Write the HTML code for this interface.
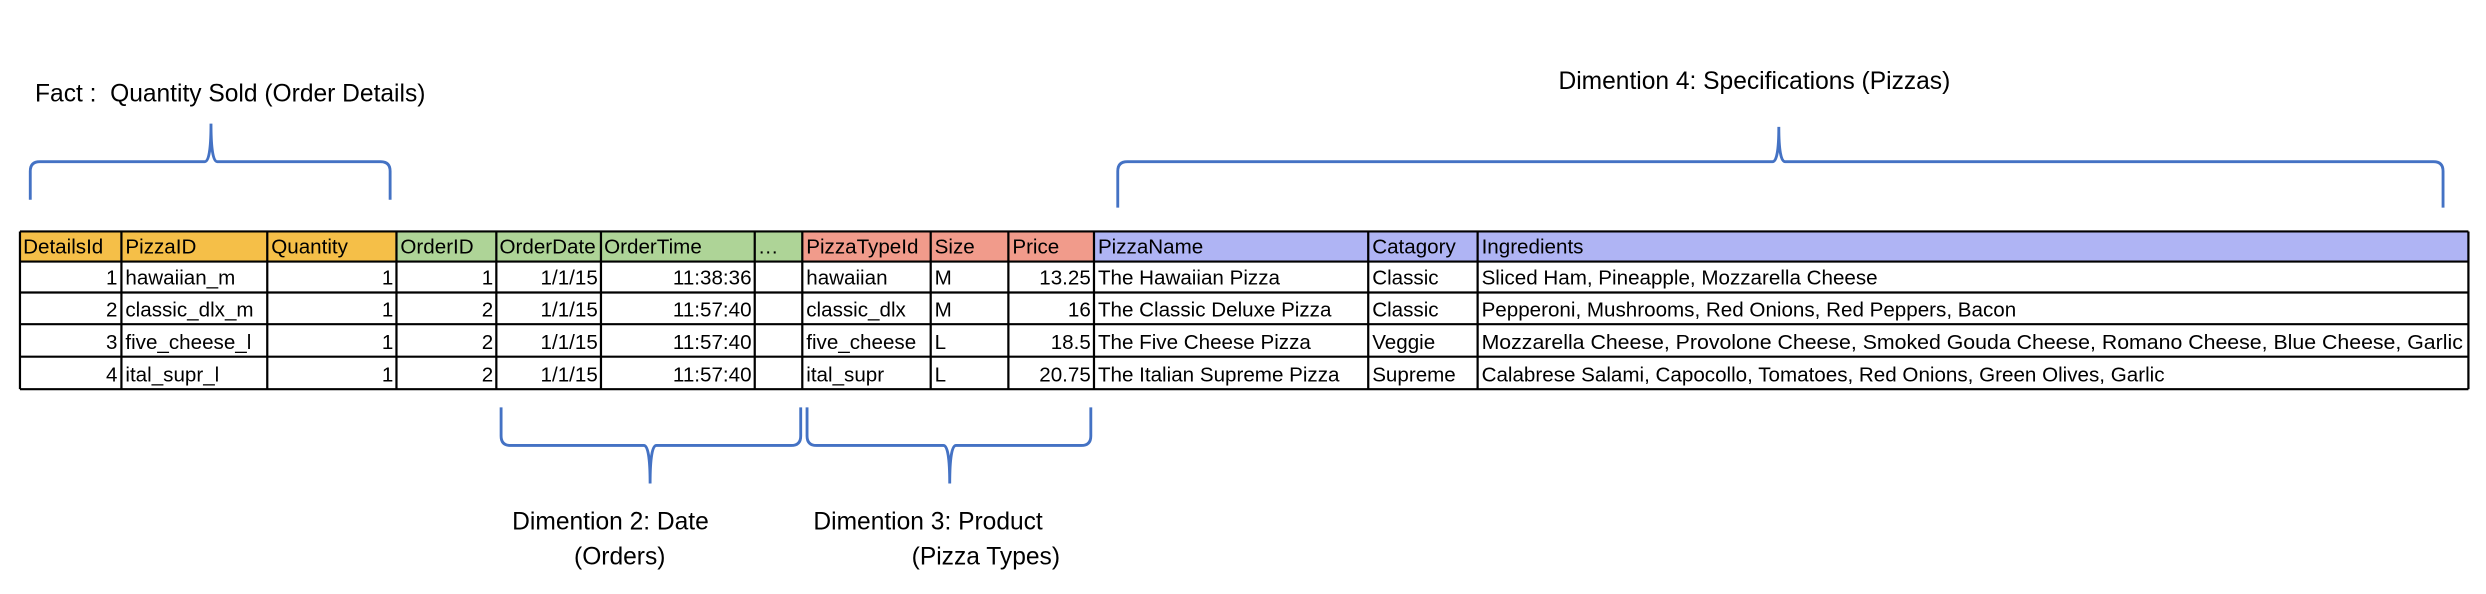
<!DOCTYPE html>
<html><head><meta charset="utf-8"><style>
html,body{margin:0;padding:0;background:#fff;width:2486px;height:594px;overflow:hidden}
svg{display:block}
text{font-family:"Liberation Sans",sans-serif;fill:#000}
.t{font-size:13px}
.l{font-size:15.5px}
</style></head><body>
<svg width="2486" height="594" viewBox="0 0 1568 374.7" xmlns="http://www.w3.org/2000/svg">
<rect width="1568" height="375" fill="#fff"/>
<rect x="12.5" y="146" width="237.5" height="19" fill="#F5BF48"/>
<rect x="250" y="146" width="256" height="19" fill="#AED497"/>
<rect x="506" y="146" width="184" height="19" fill="#F19B8B"/>
<rect x="690" y="146" width="867" height="19" fill="#AFB4F4"/>
<g stroke="#000" stroke-width="1.4" fill="none">
<line x1="12.5" y1="146" x2="1557" y2="146"/>
<line x1="12.5" y1="165" x2="1557" y2="165"/>
<line x1="12.5" y1="184.5" x2="1557" y2="184.5"/>
<line x1="12.5" y1="204.5" x2="1557" y2="204.5"/>
<line x1="12.5" y1="225" x2="1557" y2="225"/>
<line x1="12.5" y1="245.5" x2="1557" y2="245.5"/>
<line x1="12.5" y1="146" x2="12.5" y2="245.5"/>
<line x1="76.5" y1="146" x2="76.5" y2="245.5"/>
<line x1="168.5" y1="146" x2="168.5" y2="245.5"/>
<line x1="250" y1="146" x2="250" y2="245.5"/>
<line x1="313" y1="146" x2="313" y2="245.5"/>
<line x1="379" y1="146" x2="379" y2="245.5"/>
<line x1="476" y1="146" x2="476" y2="245.5"/>
<line x1="506" y1="146" x2="506" y2="245.5"/>
<line x1="587" y1="146" x2="587" y2="245.5"/>
<line x1="636" y1="146" x2="636" y2="245.5"/>
<line x1="690" y1="146" x2="690" y2="245.5"/>
<line x1="863" y1="146" x2="863" y2="245.5"/>
<line x1="932" y1="146" x2="932" y2="245.5"/>
<line x1="1557" y1="146" x2="1557" y2="245.5"/>
</g>
<g class="t">
<text x="14.5" y="160" class="t">DetailsId</text>
<text x="79" y="160" class="t">PizzaID</text>
<text x="171" y="160" class="t">Quantity</text>
<text x="252.5" y="160" class="t">OrderID</text>
<text x="315" y="160" class="t">OrderDate</text>
<text x="381" y="160" class="t">OrderTime</text>
<text x="478" y="160" class="t">…</text>
<text x="508.5" y="160" class="t">PizzaTypeId</text>
<text x="589.5" y="160" class="t">Size</text>
<text x="638.5" y="160" class="t">Price</text>
<text x="692.5" y="160" class="t">PizzaName</text>
<text x="865.5" y="160" class="t">Catagory</text>
<text x="934.5" y="160" class="t">Ingredients</text>
</g>
<g class="t">
<g text-anchor="end">
<text x="74" y="179.5">1</text><text x="74" y="199.5">2</text><text x="74" y="220">3</text><text x="74" y="240.5">4</text>
<text x="248" y="179.5">1</text><text x="248" y="199.5">1</text><text x="248" y="220">1</text><text x="248" y="240.5">1</text>
<text x="311" y="179.5">1</text><text x="311" y="199.5">2</text><text x="311" y="220">2</text><text x="311" y="240.5">2</text>
<text x="377" y="179.5">1/1/15</text><text x="377" y="199.5">1/1/15</text><text x="377" y="220">1/1/15</text><text x="377" y="240.5">1/1/15</text>
<text x="474" y="179.5">11:38:36</text><text x="474" y="199.5">11:57:40</text><text x="474" y="220">11:57:40</text><text x="474" y="240.5">11:57:40</text>
<text x="688" y="179.5">13.25</text><text x="688" y="199.5">16</text><text x="688" y="220">18.5</text><text x="688" y="240.5">20.75</text>
</g>
<text x="79" y="179.5">hawaiian_m</text><text x="79" y="199.5">classic_dlx_m</text><text x="79" y="220">five_cheese_l</text><text x="79" y="240.5">ital_supr_l</text>
<text x="508.5" y="179.5">hawaiian</text><text x="508.5" y="199.5">classic_dlx</text><text x="508.5" y="220">five_cheese</text><text x="508.5" y="240.5">ital_supr</text>
<text x="589.5" y="179.5">M</text><text x="589.5" y="199.5">M</text><text x="589.5" y="220">L</text><text x="589.5" y="240.5">L</text>
<text x="692.5" y="179.5">The Hawaiian Pizza</text><text x="692.5" y="199.5">The Classic Deluxe Pizza</text><text x="692.5" y="220">The Five Cheese Pizza</text><text x="692.5" y="240.5">The Italian Supreme Pizza</text>
<text x="865.5" y="179.5">Classic</text><text x="865.5" y="199.5">Classic</text><text x="865.5" y="220">Veggie</text><text x="865.5" y="240.5">Supreme</text>
<text x="934.5" y="179.5">Sliced Ham, Pineapple, Mozzarella Cheese</text>
<text x="934.5" y="199.5">Pepperoni, Mushrooms, Red Onions, Red Peppers, Bacon</text>
<text x="934.5" y="220" textLength="619" lengthAdjust="spacingAndGlyphs">Mozzarella Cheese, Provolone Cheese, Smoked Gouda Cheese, Romano Cheese, Blue Cheese, Garlic</text>
<text x="934.5" y="240.5">Calabrese Salami, Capocollo, Tomatoes, Red Onions, Green Olives, Garlic</text>
</g>
<g stroke="#4472C4" stroke-width="1.8" fill="none">
<path d="M19,126 L19,108 Q19,102 25,102 L129,102 Q133,102 133,78 Q133,102 137,102 L240,102 Q246,102 246,108 L246,126"/>
<path d="M705,131 L705,108 Q705,102 711,102 L1118,102 Q1122,102 1122,80 Q1122,102 1126,102 L1535,102 Q1541,102 1541,108 L1541,131"/>
<path d="M316,257 L316,275 Q316,281 322,281 L406,281 Q410,281 410,305 Q410,281 414,281 L499,281 Q505,281 505,275 L505,257"/>
<path d="M509,257 L509,275 Q509,281 515,281 L595,281 Q599,281 599,305 Q599,281 603,281 L682,281 Q688,281 688,275 L688,257"/>
</g>
<text class="l" x="22" y="64" xml:space="preserve">Fact :&#160; Quantity Sold (Order Details)</text>
<text class="l" x="983" y="56">Dimention 4: Specifications (Pizzas)</text>
<text class="l" x="323" y="334">Dimention 2: Date</text>
<text class="l" x="362" y="356">(Orders)</text>
<text class="l" x="513" y="334">Dimention 3: Product</text>
<text class="l" x="575" y="356">(Pizza Types)</text>
</svg>
</body></html>
